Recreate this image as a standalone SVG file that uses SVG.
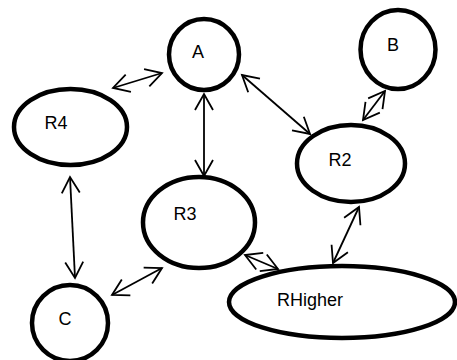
<svg xmlns="http://www.w3.org/2000/svg" width="457" height="360" viewBox="0 0 457 360">
<style>
.node{fill:#fff;stroke:#000;stroke-width:4.5}
.lbl{font-family:"Liberation Sans",Arial,sans-serif;font-size:18px;fill:#000;text-anchor:middle}
.edge{stroke:#000;stroke-width:1.8;fill:none;marker-start:url(#ah);marker-end:url(#ah)}
</style>
<defs>
<marker id="ah" markerUnits="userSpaceOnUse" viewBox="-20 -12 24 24" markerWidth="24" markerHeight="24" refX="0" refY="0" orient="auto-start-reverse" overflow="visible">
<path d="M-16,-9 L0,0 L-16,9" fill="none" stroke="#000" stroke-width="1.8" stroke-linejoin="miter"/>
</marker>
</defs>
<rect width="457" height="360" fill="#fff"/>
<g id="node-A"><ellipse class="node" cx="204" cy="54.5" rx="35" ry="35.5"/><text class="lbl" x="198" y="58">A</text></g>
<g id="node-B"><ellipse class="node" cx="398" cy="49.5" rx="37.5" ry="39.5"/><text class="lbl" x="393" y="51">B</text></g>
<g id="node-R4"><ellipse class="node" cx="70.5" cy="127" rx="56.5" ry="38"/><text class="lbl" x="56" y="129">R4</text></g>
<g id="node-R2"><ellipse class="node" cx="351" cy="163.5" rx="54" ry="38.5"/><text class="lbl" x="340" y="166">R2</text></g>
<g id="node-R3"><ellipse class="node" cx="199" cy="222.5" rx="56" ry="45.5"/><text class="lbl" x="185" y="220">R3</text></g>
<g id="node-C"><ellipse class="node" cx="70" cy="323" rx="38" ry="38"/><text class="lbl" x="65" y="325">C</text></g>
<g id="node-RHigher"><ellipse class="node" cx="342" cy="302" rx="113" ry="36"/><text class="lbl" x="310" y="306">RHigher</text></g>
<g id="connectors">
<line class="edge" x1="113" y1="88" x2="162" y2="73"/>
<line class="edge" x1="204" y1="94" x2="204" y2="176"/>
<line class="edge" x1="242" y1="75" x2="310" y2="134"/>
<line class="edge" x1="385" y1="91" x2="363" y2="120"/>
<line class="edge" x1="70" y1="177" x2="75" y2="278"/>
<line class="edge" x1="112" y1="295" x2="162" y2="268"/>
<line class="edge" x1="359" y1="207" x2="333" y2="263"/>
<line class="edge" x1="245" y1="255" x2="278" y2="269"/>
</g>
</svg>
